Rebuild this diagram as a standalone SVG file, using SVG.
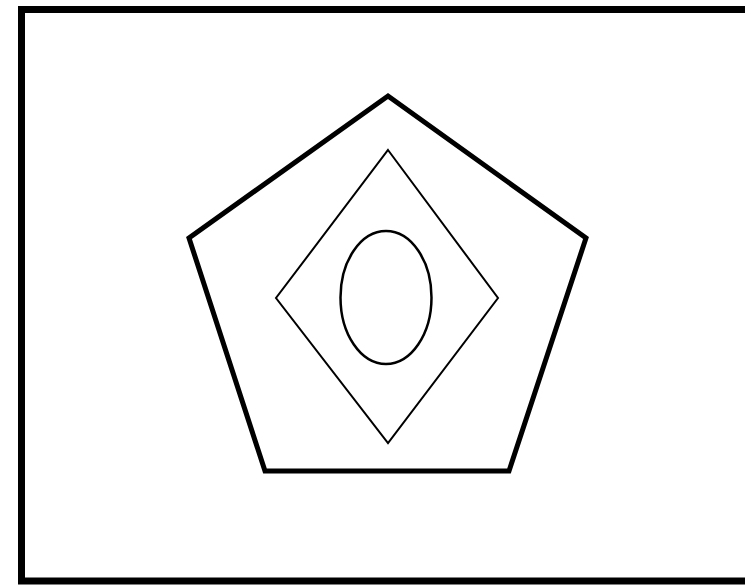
<svg xmlns="http://www.w3.org/2000/svg" width="745" height="585" viewBox="0 0 745 585">
<style>
.s{fill:none;stroke:#000;stroke-linejoin:miter}
</style>
<rect x="0" y="0" width="745" height="585" fill="#fff"/>
<rect id="frame" class="s" x="21.5" y="9.5" width="730" height="571.5" stroke-width="7"/>
<g id="pentagon"><polygon class="s" points="388,96 586,238 509,471 265,471 189,238" stroke-width="5"/></g>
<g id="diamond"><polygon class="s" points="388,150 498,298 388,443 276,298" stroke-width="2"/></g>
<g id="ellipse"><ellipse class="s" cx="386" cy="297.5" rx="45.5" ry="66.5" stroke-width="2.5"/></g>
<g id="connectors"/>
</svg>
